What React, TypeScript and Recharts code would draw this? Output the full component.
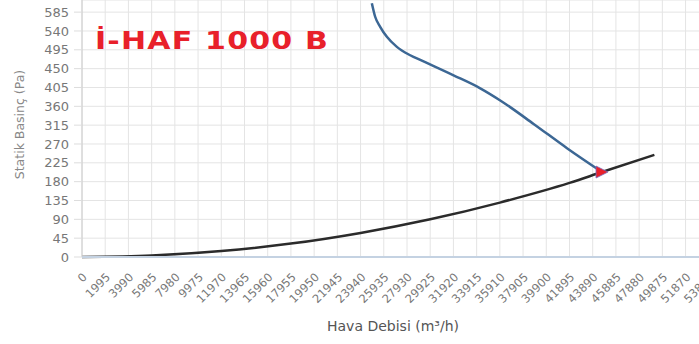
import * as React from 'react'
import { CartesianGrid, ComposedChart, Line, Scatter, XAxis, YAxis } from 'recharts'

// DATA

const fanFlow = [24912, 25195, 25625, 26200, 27060, 28205, 29210, 31930, 34225, 35945, 38810, 41680, 44690]
const fanPressure = [606, 574, 550, 526, 502, 482, 469, 434, 403, 374, 318, 260, 203]

const systemFlow = [0, 5985, 11970, 17955, 23940, 29925, 35910, 41895, 44690, 49190]
const systemPressure = [0, 3.6, 14.4, 32, 57.5, 90, 130, 177, 203, 244]

const operatingPoint = [{ x: 44690, y: 203 }]

const xTicks = [0, 1995, 3990, 5985, 7980, 9975, 11970, 13965, 15960, 17955, 19950, 21945, 23940, 25935,
    27930, 29925, 31920, 33915, 35910, 37905, 39900, 41895, 43890, 45885, 47880, 49875, 51870, 53865]
const yTicks = [0, 45, 90, 135, 180, 225, 270, 315, 360, 405, 450, 495, 540, 585]

const title = 'İ-HAF 1000 B'
const xTitle = 'Hava Debisi (m³/h)'
const yTitle = 'Statik Basinç (Pa)'

const fanData = fanFlow.map((x, i) => ({ x, fan: fanPressure[i] }))
const systemData = systemFlow.map((x, i) => ({ x, system: systemPressure[i] }))

const font = '"DejaVu Sans", sans-serif'

const Marker = (props: any) => {
    const { cx, cy } = props
    return (
        <polygon points={`${cx - 6},${cy - 6} ${cx + 6},${cy} ${cx - 6},${cy + 6}`} fill='#e8202a' stroke='#7a6fc0' strokeWidth={0.8}/>
    )
}

export default function App() {
    return (
        <div style={{ position: 'absolute', left: 0, top: 0, width: 699, height: 344, overflow: 'hidden', background: '#fff' }}>
            <ComposedChart width={740} height={344} margin={{ top: 0, right: 8, left: 0, bottom: 0 }} style={{ fontFamily: font }}>
                <CartesianGrid stroke='#e4e4e4' strokeWidth={1}/>
                <XAxis dataKey='x' type='number' domain={[0, 55860]} ticks={xTicks} interval={0} height={87}
                    tickLine={false} axisLine={{ stroke: '#c4d2e2', strokeWidth: 2 }} angle={-45} textAnchor='end'
                    tickMargin={9} tick={{ fontSize: 11.5, fill: '#777' }}
                    label={{ value: xTitle, position: 'center', dx: -14, dy: 26, fill: '#555', fontSize: 14 }}/>
                <YAxis type='number' domain={[0, 614]} ticks={yTicks} interval={0} width={82}
                    tickSize={8} tickMargin={5} tickLine={{ stroke: '#ddd' }} axisLine={{ stroke: '#ccc' }}
                    tick={{ fontSize: 13, fill: '#777' }}
                    label={{ value: yTitle, position: 'center', angle: -90, dx: -21, dy: -4, fill: '#888', fontSize: 12.5 }}/>
                <Line data={systemData} dataKey='system' type='monotone' stroke='#2b2b2b' strokeWidth={2.5} dot={false} isAnimationActive={false}/>
                <Line data={fanData} dataKey='fan' type='monotone' stroke='#3c6794' strokeWidth={2.5} dot={false} isAnimationActive={false}/>
                <Scatter data={operatingPoint} dataKey='y' shape={<Marker/>} isAnimationActive={false}/>
            </ComposedChart>
            <div style={{ position: 'absolute', left: 95, top: 26, fontFamily: font, fontWeight: 'bold', fontSize: 25, letterSpacing: 1, color: '#e8202a', whiteSpace: 'nowrap', lineHeight: '30px', transform: 'scaleX(1.2)', transformOrigin: 'left center' }}>
                {title}
            </div>
        </div>
    )
}
